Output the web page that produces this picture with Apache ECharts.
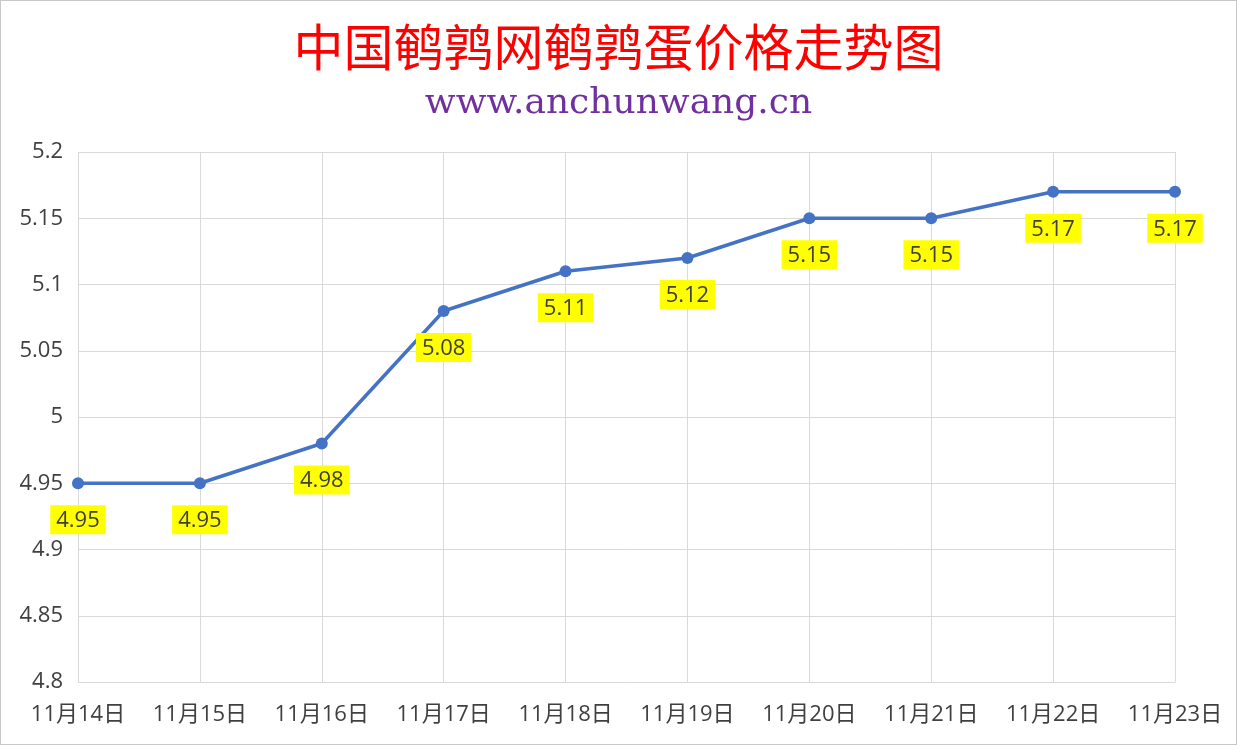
<!DOCTYPE html>
<html><head><meta charset="utf-8">
<script src="https://cdn.jsdelivr.net/npm/echarts@6/dist/echarts.min.js"></script>
<style>html,body{margin:0;padding:0;background:#fff;}#c{width:1237px;height:745px;box-sizing:border-box;border:1px solid #c8c8c8;}</style>
</head><body><div id="c"></div>
<script>
const categories = ['11月14日','11月15日','11月16日','11月17日','11月18日','11月19日','11月20日','11月21日','11月22日','11月23日'];
const prices = [4.95, 4.95, 4.98, 5.08, 5.11, 5.12, 5.15, 5.15, 5.17, 5.17];
const yTicks = [4.8, 4.85, 4.9, 4.95, 5, 5.05, 5.1, 5.15, 5.2];
const titleText = '中国鹌鹑网鹌鹑蛋价格走势图';
const subText = 'www.anchunwang.cn';

const chart = echarts.init(document.getElementById('c'), null, {renderer:'canvas'});
chart.setOption({
  animation:false,
  title:[{
    text:titleText, left:'center', top:16,
    textStyle:{color:'#ff0000', fontSize:50, fontWeight:'normal', fontFamily:'"Noto Sans CJK SC", serif'}
  },{
    text:subText, left:'center', top:80,
    textStyle:{color:'#7030a0', fontSize:36, fontWeight:'normal', fontFamily:'"DejaVu Serif", serif'}
  }],
  grid:{left:77, right:61, top:151, bottom:62},
  xAxis:{
    type:'category', data:categories, boundaryGap:false,
    axisLine:{lineStyle:{color:'#d9d9d9'}},
    axisTick:{show:false},
    axisLabel:{color:'#404040', fontSize:22, margin:22, fontFamily:'"Open Sans", "Noto Sans CJK SC", sans-serif', interval:0},
    splitLine:{show:true, lineStyle:{color:'#d9d9d9', width:1}}
  },
  yAxis:{
    type:'value', min:4.8, max:5.2, interval:0.05,
    axisLine:{show:false}, axisTick:{show:false},
    axisLabel:{color:'#404040', fontSize:22, margin:15, fontFamily:'"Open Sans", sans-serif',
      formatter:function(v){ const t = yTicks.find(x=>Math.abs(x-v)<1e-6); return t===undefined? '' : String(t); }},
    splitLine:{lineStyle:{color:'#d9d9d9', width:1}}
  },
  series:[{
    type:'line', data:prices,
    symbol:'circle', symbolSize:12,
    lineStyle:{color:'#4472c4', width:3.5},
    itemStyle:{color:'#4472c4'},
    label:{
      show:true, position:'bottom', distance:16,
      color:'#404040', fontSize:22, lineHeight:23, fontFamily:'"Open Sans", sans-serif',
      backgroundColor:'#ffff00', padding:[4,6,2,6],
      formatter:function(p){ return p.value.toFixed(2); }
    }
  }]
});
</script></body></html>
